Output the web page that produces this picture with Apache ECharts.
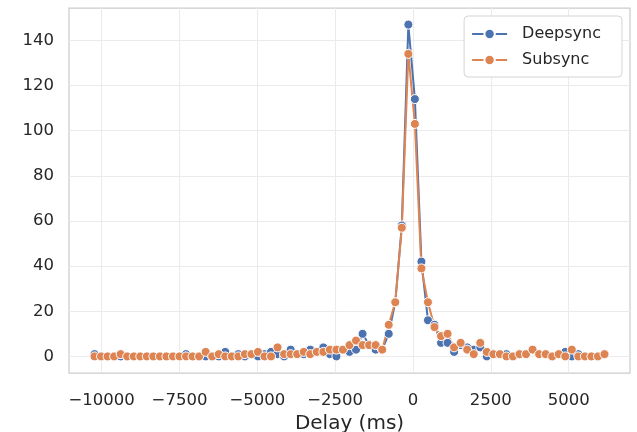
<!DOCTYPE html>
<html>
<head>
<meta charset="utf-8">
<script src="https://cdn.jsdelivr.net/npm/echarts@6/dist/echarts.min.js"></script>
<style>html,body{margin:0;padding:0;background:#fff}#c{width:637px;height:432px}</style>
</head>
<body>
<div id="c"></div>
<script>
const delays = [-10230,-10020,-9810,-9600,-9390,-9180,-8970,-8760,-8550,-8340,-8130,-7920,-7710,-7500,-7290,-7080,-6870,-6660,-6450,-6240,-6030,-5820,-5610,-5400,-5190,-4980,-4770,-4560,-4350,-4140,-3930,-3720,-3510,-3300,-3090,-2880,-2670,-2460,-2250,-2040,-1830,-1620,-1410,-1200,-990,-780,-570,-360,-150,60,270,480,690,900,1110,1320,1530,1740,1950,2160,2370,2580,2790,3000,3210,3420,3630,3840,4050,4260,4470,4680,4890,5100,5310,5520,5730,5940,6150];
const deepsync = [1,0,0,0,0,0,0,0,0,0,0,0,0,0,1,0,0,0,0,0,2,0,1,0,1,0,1,2,1,0,3,1,1,3,2,4,1,0,3,2,3,10,5,3,3,10,24,58,147,114,42,16,14,6,6,2,5,4,3,4,0,1,1,1,0,1,1,3,1,1,0,1,2,0,1,0,0,0,1];
const subsync = [0,0,0,0,1,0,0,0,0,0,0,0,0,0,0,0,0,2,0,1,0,0,0,1,1,2,0,0,4,1,1,1,2,1,2,2,3,3,3,5,7,5,5,5,3,14,24,57,134,103,39,24,13,9,10,4,6,3,1,6,2,1,1,0,0,1,1,3,1,1,0,1,0,3,0,0,0,0,1];
const xTicks = [-10000,-7500,-5000,-2500,0,2500,5000];
const yTicks = [0,20,40,60,80,100,120,140];
const seriesNames = ['Deepsync','Subsync'];
const colors = ['#4C72B0','#DD8452'];

const FONT = 'DejaVu Sans';
const TXT = '#262626';
const fmt = v => String(v).replace('-', '\u2212');

const chart = echarts.init(document.getElementById('c'), null, {renderer:'canvas'});
function mk(name, vals, color){
  return {
    name, type:'line', data: delays.map((d,i)=>[d, vals[i]]),
    symbol:'circle', symbolSize:9, showSymbol:true,
    lineStyle:{color, width:2},
    itemStyle:{color, borderColor:'#ffffff', borderWidth:1},
    emphasis:{disabled:true}, animation:false
  };
}
chart.setOption({
  animation:false,
  backgroundColor:'#ffffff',
  grid:{left:69, right:7, top:8, bottom:59, outerBoundsMode:'none', containLabel:false, show:true, borderColor:'#cccccc', borderWidth:1.25, backgroundColor:'#ffffff'},
  legend:{
    data: seriesNames, orient:'vertical', right:15, top:16,
    backgroundColor:'#ffffff', borderColor:'#d5d5d5', borderWidth:1, borderRadius:4,
    padding:[10,21,9,7], itemGap:10, itemWidth:35, itemHeight:13,
    textStyle:{fontFamily:FONT, fontSize:16, color:TXT, padding:[0,0,0,10]}
  },
  xAxis:{
    type:'value', min:-11049, max:6969,
    name:'Delay (ms)', nameLocation:'middle', nameGap:39,
    nameTextStyle:{fontFamily:FONT, fontSize:20, color:TXT},
    axisLine:{show:false}, axisTick:{show:false, customValues:xTicks},
    axisLabel:{customValues:xTicks, formatter:fmt, fontFamily:FONT, fontSize:16.5, color:TXT, margin:19},
    splitLine:{show:true, lineStyle:{color:'#ebebeb', width:1}}
  },
  yAxis:{
    type:'value', min:-7.35, max:154.35,
    axisLine:{show:false}, axisTick:{show:false, customValues:yTicks},
    axisLabel:{customValues:yTicks, fontFamily:FONT, fontSize:16.5, color:TXT, margin:15},
    splitLine:{show:true, lineStyle:{color:'#ebebeb', width:1}}
  },
  series:[mk(seriesNames[0], deepsync, colors[0]), mk(seriesNames[1], subsync, colors[1])]
});
</script>
</body>
</html>
